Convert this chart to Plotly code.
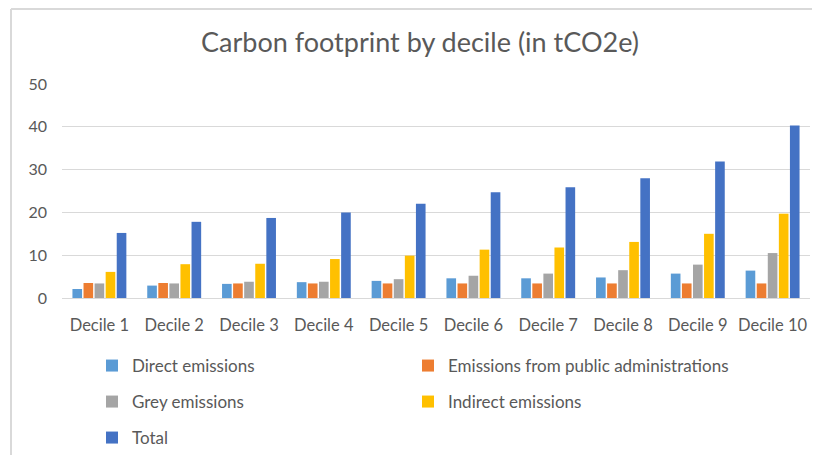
import plotly.graph_objects as go

deciles = [f"Decile {i}" for i in range(1, 11)]

direct = [2.1, 2.9, 3.3, 3.7, 4.0, 4.6, 4.6, 4.8, 5.7, 6.4]
public_admin = [3.5, 3.5, 3.4, 3.4, 3.4, 3.4, 3.4, 3.4, 3.4, 3.4]
grey = [3.4, 3.4, 3.8, 3.8, 4.4, 5.2, 5.7, 6.5, 7.8, 10.5]
indirect = [6.1, 7.9, 8.0, 9.1, 9.9, 11.3, 11.8, 13.1, 15.0, 19.7]
total = [15.2, 17.8, 18.7, 20.0, 22.0, 24.7, 25.9, 28.0, 31.9, 40.3]

y_ticks = [0, 10, 20, 30, 40, 50]

# name, values, colour, legend slot (column, row)
series = [
    ("Direct emissions", direct, "#5B9BD5", (0, 0)),
    ("Emissions from public administrations", public_admin, "#ED7D31", (1, 0)),
    ("Grey emissions", grey, "#A5A5A5", (0, 1)),
    ("Indirect emissions", indirect, "#FFC000", (1, 1)),
    ("Total", total, "#4472C4", (0, 2)),
]

FONT = "Lato"
TEXT = "#595959"
# the page body adds an 8px margin on every side; keep the figure inside the window
OFF = 8
W, H = 820 - 2 * OFF, 463 - 2 * OFF

LEG_COLS = [92, 408]   # page x of each legend column
LEG_ROWS = [366, 402, 438]  # page y of each legend row

fig = go.Figure()
legends = {}
for i, (name, vals, color, (col, row)) in enumerate(series):
    key = "legend" if i == 0 else f"legend{i + 1}"
    fig.add_trace(
        go.Bar(
            x=deciles,
            y=vals,
            name=name,
            marker=dict(color=color, line=dict(width=0)),
            legend=key,
            hoverinfo="skip",
        )
    )
    legends[key] = dict(
        orientation="h",
        xref="container",
        yref="container",
        x=(LEG_COLS[col] - OFF) / W,
        y=1 - (LEG_ROWS[row] - OFF) / H,
        xanchor="left",
        yanchor="middle",
        font=dict(family=FONT, size=17, color=TEXT),
        itemwidth=30,
        bgcolor="rgba(0,0,0,0)",
    )

# outer chart frame (left and top edges visible in the crop)
frame = dict(color="#D9D9D9", width=2)
px_x = lambda px: (px - 62) / 748
px_y = lambda py: (298 - py) / 214

fig.update_layout(
    width=W,
    height=H,
    margin=dict(l=62 - OFF, r=W - (810 - OFF), t=84 - OFF, b=H - (298 - OFF)),
    paper_bgcolor="white",
    plot_bgcolor="white",
    font=dict(family=FONT, color=TEXT),
    title=dict(
        text="Carbon footprint by decile (in tCO2e)",
        x=(420 - OFF) / W,
        xanchor="center",
        y=1 - (43 - OFF) / H,
        yanchor="middle",
        font=dict(family=FONT, size=27, color=TEXT),
    ),
    barmode="group",
    bargap=0.26,
    bargroupgap=0.13,
    showlegend=True,
    xaxis=dict(
        showgrid=False,
        showline=True,
        linecolor="#D9D9D9",
        linewidth=1,
        tickfont=dict(family=FONT, size=16.5, color=TEXT),
        ticklabelstandoff=12,
        ticks="",
    ),
    yaxis=dict(
        range=[0, 50],
        tickvals=y_ticks,
        showgrid=True,
        gridcolor="#D9D9D9",
        gridwidth=1,
        zeroline=False,
        showline=False,
        tickfont=dict(family=FONT, size=16, color=TEXT),
        ticklabelstandoff=14,
        ticks="",
    ),
    shapes=[
        dict(type="line", xref="paper", yref="paper",
             x0=px_x(11), x1=px_x(11), y0=px_y(9), y1=px_y(460), line=frame),
        dict(type="line", xref="paper", yref="paper",
             x0=px_x(11), x1=px_x(812), y0=px_y(9), y1=px_y(9), line=frame),
    ],
    **legends,
)

fig.write_html("out.html")
